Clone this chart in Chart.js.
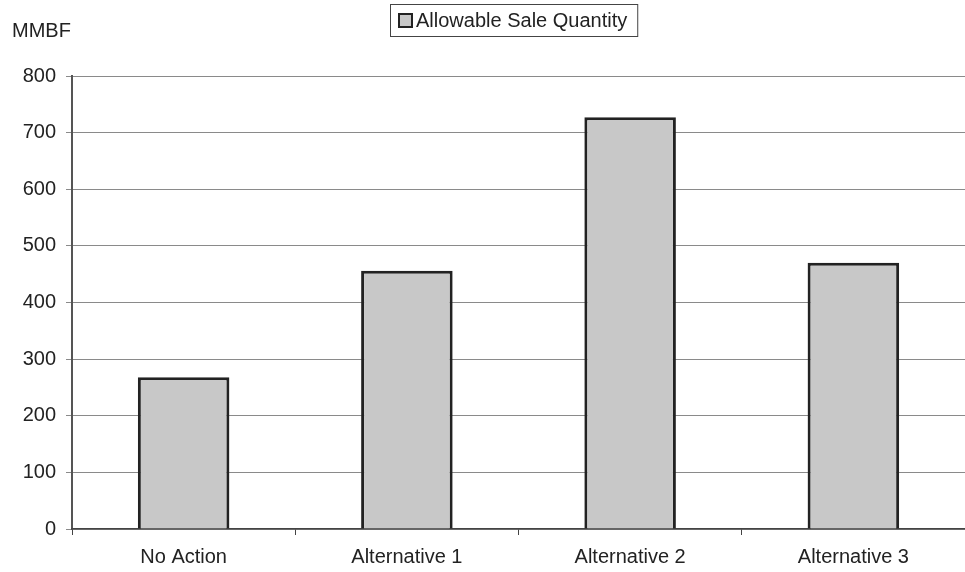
<!DOCTYPE html>
<html><head><meta charset="utf-8">
<script src="https://cdn.jsdelivr.net/npm/chart.js@4/dist/chart.umd.min.js"></script>
<style>html,body{margin:0;padding:0;background:#fff}canvas{display:block}</style>
</head><body>
<canvas id="c" width="965" height="572"></canvas>
<script>
const categories = ["No Action", "Alternative 1", "Alternative 2", "Alternative 3"];
const saleQuantity = [268, 456, 727, 470];
const seriesName = "Allowable Sale Quantity";
const axisUnit = "MMBF";
const yTicks = [0, 100, 200, 300, 400, 500, 600, 700, 800];

const FONT = '"Liberation Sans", Arial, sans-serif';

const decor = {
  id: 'decor',
  afterDraw(chart) {
    const ctx = chart.ctx;
    ctx.save();
    ctx.font = '20px ' + FONT;
    ctx.fillStyle = '#222';
    ctx.textBaseline = 'middle';
    ctx.textAlign = 'left';
    ctx.fillText(axisUnit, 12, 31);
    // legend
    const tw = ctx.measureText(seriesName).width;
    const x0 = 390, y0 = 4, h = 32;
    const w = Math.max(247, 26 + tw + 10);
    ctx.fillStyle = '#fff';
    ctx.fillRect(x0, y0, w, h);
    ctx.strokeStyle = '#444';
    ctx.lineWidth = 1;
    ctx.strokeRect(x0 + 0.5, y0 + 0.5, w, h);
    ctx.fillStyle = '#c8c8c8';
    ctx.fillRect(399, 14, 13, 13);
    ctx.lineWidth = 2;
    ctx.strokeStyle = '#222';
    ctx.strokeRect(399, 14, 13, 13);
    ctx.fillStyle = '#222';
    ctx.fillText(seriesName, 416, 21);
    ctx.restore();
  }
};

new Chart(document.getElementById('c'), {
  type: 'bar',
  data: {
    labels: categories,
    datasets: [{
      label: seriesName,
      data: saleQuantity,
      backgroundColor: '#c8c8c8',
      borderColor: '#222',
      borderWidth: 3,
      barPercentage: 0.41,
      categoryPercentage: 1.0
    }]
  },
  options: {
    responsive: false,
    animation: false,
    layout: { padding: { top: 76, right: 0, left: 0, bottom: 0 } },
    plugins: { legend: { display: false }, tooltip: { enabled: false } },
    scales: {
      y: {
        min: 0, max: 800,
        afterFit(s) { s.width = 72; },
        afterBuildTicks(s) { s.ticks = yTicks.map(v => ({ value: v })); },
        ticks: { color: '#222', font: { family: FONT, size: 20 }, padding: 10 },
        grid: { color: '#8a8a8a', lineWidth: 1, tickLength: 6 },
        border: { color: '#555', width: 2 }
      },
      x: {
        afterFit(s) { s.height = 43; },
        ticks: { color: '#222', font: { family: FONT, size: 20 }, padding: 10 },
        grid: { drawOnChartArea: false, drawTicks: true, tickLength: 6, color: '#444', offset: true },
        border: { color: '#444', width: 1.5 }
      }
    }
  },
  plugins: [decor]
});
</script>
</body></html>
